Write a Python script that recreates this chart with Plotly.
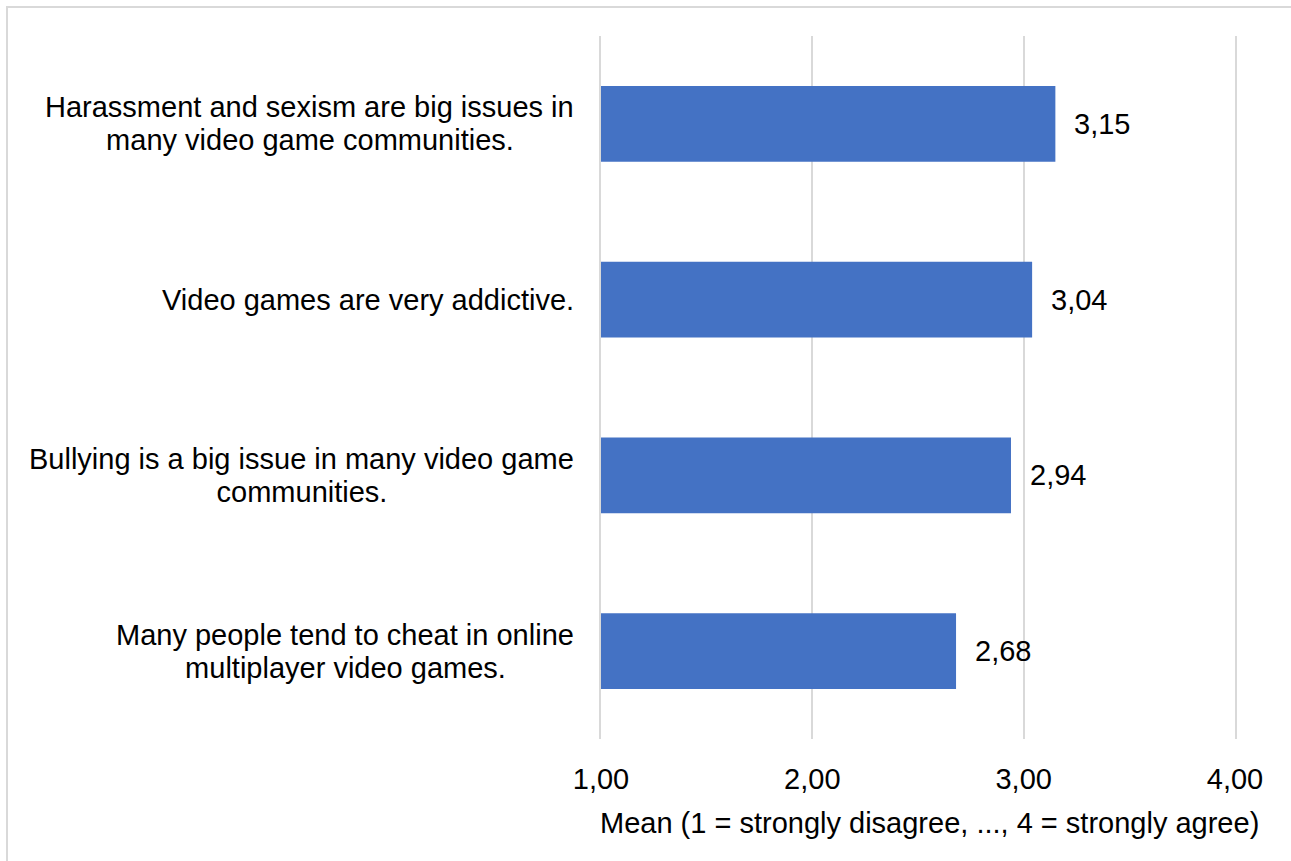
import plotly.graph_objects as go

# Survey statements (top to bottom) and their mean agreement scores
statements = [
    ["Harassment and sexism are big issues in", "many video game communities."],
    ["Video games are very addictive."],
    ["Bullying is a big issue in many video game", "communities."],
    ["Many people tend to cheat in online", "multiplayer video games."],
]
means = [3.15, 3.04, 2.94, 2.68]
tick_values = [1, 2, 3, 4]
x_title = "Mean (1 = strongly disagree, ..., 4 = strongly agree)"

FONT = "Liberation Sans, Arial, sans-serif"
FS = 29
BAR_COLOR = "#4472C4"
GRID = "#d9d9d9"

W, H = 1291, 861
ML, MR, MT, MB = 601, 56, 36, 122
PW, PH = W - ML - MR, H - MT - MB

# Width (px) of the widest line of each wrapped label, so the shorter
# line can be centred beneath it
LABEL_BLOCK_W = {0: 528, 2: 544, 3: 457}
LINE_GAP = 16.5  # half the distance between the two lines of a label

cat_ids = [" ".join(s) for s in statements]
text_font = dict(family=FONT, size=FS, color="#000000")

fig = go.Figure(
    go.Bar(
        y=cat_ids,
        x=means,
        orientation="h",
        width=0.43,
        marker=dict(color=BAR_COLOR, line=dict(width=0)),
        hoverinfo="skip",
    )
)

annotations = []

# Value labels just right of each bar end
for cid, v in zip(cat_ids, means):
    annotations.append(dict(
        x=v, y=cid, xref="x", yref="y", xanchor="left", yanchor="middle",
        xshift=17, showarrow=False,
        text=f"{v:.2f}".replace(".", ","), font=text_font,
    ))

# Category labels: right-aligned block left of the plot, lines centred
for i, (cid, lines) in enumerate(zip(cat_ids, statements)):
    base = dict(x=0, y=cid, xref="paper", yref="y", xanchor="right",
                yanchor="middle", xshift=-25, showarrow=False,
                align="center", font=text_font)
    if len(lines) == 1:
        annotations.append(dict(base, text=lines[0]))
    else:
        annotations.append(dict(base, text=lines[0], yshift=LINE_GAP))
        annotations.append(dict(base, text=lines[1], yshift=-LINE_GAP,
                                width=LABEL_BLOCK_W[i]))

# Axis title under the tick labels
annotations.append(dict(
    x=(929 - ML) / PW, y=-(823 - (H - MB)) / PH, xref="paper", yref="paper",
    xanchor="center", yanchor="middle", showarrow=False, text=x_title,
    font=text_font,
))

# Light frame around the whole chart area
frame = dict(
    type="rect", xref="paper", yref="paper", layer="below",
    x0=(7 - ML) / PW, x1=(W + 20 - ML) / PW,
    y0=(H - MB - (H + 20)) / PH, y1=(H - MB - 7) / PH,
    line=dict(color=GRID, width=2), fillcolor="rgba(0,0,0,0)",
)

fig.update_layout(
    width=W, height=H,
    margin=dict(l=ML, r=MR, t=MT, b=MB, pad=0),
    paper_bgcolor="white", plot_bgcolor="white",
    separators=", ",
    showlegend=False,
    font=text_font,
    annotations=annotations,
    shapes=[frame],
    xaxis=dict(
        range=[1, 4.0], tickvals=tick_values, tickformat=".2f",
        showgrid=True, gridcolor=GRID, gridwidth=2,
        zeroline=False, showline=False,
        ticks="outside", ticklen=14, tickcolor="rgba(0,0,0,0)",
        tickfont=text_font, layer="below traces",
        fixedrange=True,
    ),
    yaxis=dict(
        categoryorder="array", categoryarray=cat_ids, autorange="reversed",
        showticklabels=False, showgrid=False, zeroline=False,
        # vertical lines at 1,00 and 4,00 to complete the grid
        showline=True, mirror=True, linecolor=GRID, linewidth=2,
        layer="below traces", fixedrange=True,
    ),
)

fig.write_html("out.html")
